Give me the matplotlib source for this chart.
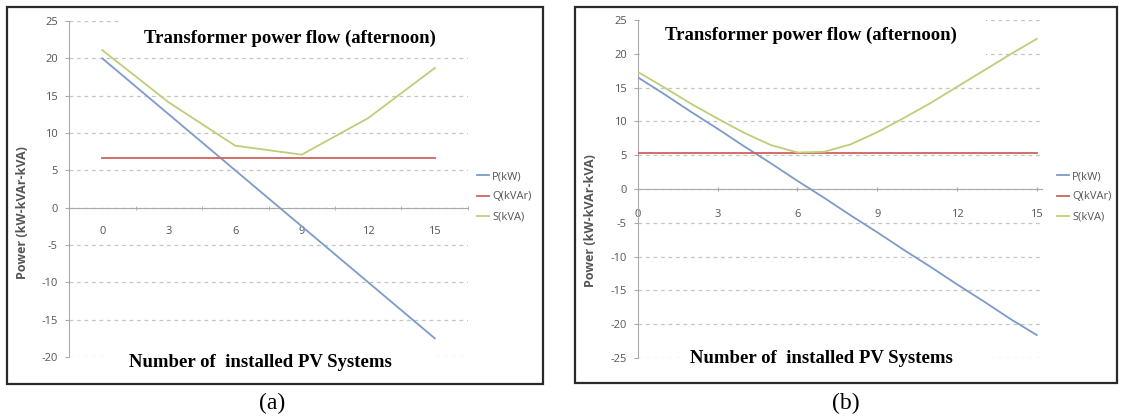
import numpy as np
import matplotlib.pyplot as plt
from matplotlib.patches import Rectangle

plt.rcParams['axes.unicode_minus'] = False

# datos panel (a): eje de categorias 0,3,...,15
n_a = [0, 3, 6, 9, 12, 15]
p_a = [20.0, 12.5, 5.0, -2.5, -10.0, -17.5]
q_a = [6.6, 6.6, 6.6, 6.6, 6.6, 6.6]
s_a = [21.1, 14.1, 8.3, 7.1, 12.0, 18.7]

# datos panel (b): un punto por cada sistema instalado
n_b = list(range(16))
p_b = [16.5, 14.0, 11.4, 8.9, 6.3, 3.8, 1.2, -1.3, -3.9, -6.4, -9.0, -11.5, -14.1, -16.6, -19.2, -21.6]
q_b = [5.3] * 16
s_b = [17.3, 15.0, 12.6, 10.4, 8.3, 6.5, 5.4, 5.5, 6.6, 8.4, 10.5, 12.7, 15.1, 17.5, 19.9, 22.2]

xticks = [0, 3, 6, 9, 12, 15]
etiquetas = ["P(kW)", "Q(kVAr)", "S(kVA)"]
titulo = "Transformer power flow (afternoon)"
xlab = "Number of  installed PV Systems"
ylab = "Power (kW-kVAr-kVA)"

c_p = '#7b9bc8'
c_q = '#cf625e'
c_s = '#bccf78'
gris = '#555555'

W, H = 1128, 417
fig = plt.figure(figsize=(W / 100, H / 100), dpi=100)


def fx(px):
    return px / W


def fy(py):
    return 1 - py / H


def caja(x0, y0, x1, y1, **kw):
    # rectangulo en pixeles de la figura
    r = Rectangle((fx(x0), fy(y1)), fx(x1) - fx(x0), fy(y0) - fy(y1),
                  transform=fig.transFigure, **kw)
    fig.add_artist(r)
    return r


def panel(ax, n, p, q, s, ylim, yticks, xlim):
    ax.plot(n, p, color=c_p, lw=1.3, label=etiquetas[0], zorder=3)
    ax.plot(n, q, color=c_q, lw=1.3, label=etiquetas[1], zorder=3)
    ax.plot(n, s, color=c_s, lw=1.3, label=etiquetas[2], zorder=3)
    ax.set_xlim(*xlim)
    ax.set_ylim(*ylim)
    ax.set_yticks(yticks)
    ax.set_xticks(xticks)
    ax.yaxis.grid(True, color='#c4c4c4', linestyle=(0, (3, 3)), lw=0.9)
    ax.set_axisbelow(True)
    for k in ['top', 'right']:
        ax.spines[k].set_visible(False)
    ax.spines['left'].set_color('#aaaaaa')
    ax.spines['bottom'].set_color('#aaaaaa')
    ax.spines['bottom'].set_position(('data', 0))
    ax.tick_params(axis='y', labelsize=8, labelcolor=gris, color='#aaaaaa', length=3, pad=5)
    ax.tick_params(axis='x', labelsize=8, labelcolor=gris, color='#aaaaaa', pad=13)
    for t in ax.get_xticklabels() + ax.get_yticklabels():
        t.set_fontfamily('Open Sans')
    ax.patch.set_alpha(0)


# panel (a)
ax1 = fig.add_axes([fx(69), fy(357), fx(468) - fx(69), fy(21) - fy(357)])
panel(ax1, n_a, p_a, q_a, s_a, (-20, 25), range(-20, 26, 5), (-1.5, 16.5))
ax1.set_xticks([1.5, 4.5, 7.5, 10.5, 13.5, 16.5], minor=True)
ax1.tick_params(axis='x', which='major', length=0)
ax1.tick_params(axis='x', which='minor', length=3, direction='inout', color='#aaaaaa')

# panel (b)
ax2 = fig.add_axes([fx(638), fy(358), fx(1042) - fx(638), fy(20) - fy(358)])
panel(ax2, n_b, p_b, q_b, s_b, (-25, 25), range(-25, 26, 5), (0, 15.2))
ax2.tick_params(axis='x', which='major', length=3, direction='inout')

# cajas blancas que tapan la reticula bajo los textos
caja(118, 12, 472, 52, facecolor='white', edgecolor='none', zorder=2)
caja(108, 346, 435, 384, facecolor='white', edgecolor='none', zorder=2)
caja(640, 12, 986, 60, facecolor='white', edgecolor='none', zorder=2)
caja(680, 344, 986, 383, facecolor='white', edgecolor='none', zorder=2)

# marcos de cada panel
caja(6.5, 7, 543, 384, facecolor='none', edgecolor='#2a2a2a', lw=1.6, zorder=5)
caja(575, 7, 1117, 383, facecolor='none', edgecolor='#2a2a2a', lw=1.6, zorder=5)

serif = 'Liberation Serif'
for cx, by in [(290, 43), (811, 40)]:
    fig.text(fx(cx), fy(by), titulo, ha='center', va='baseline', fontsize=13.5,
             fontweight='bold', family=serif, zorder=6)
for cx, by in [(260, 367), (821, 363)]:
    fig.text(fx(cx), fy(by), xlab, ha='center', va='baseline', fontsize=13.5,
             fontweight='bold', family=serif, zorder=6)
fig.text(fx(272), fy(403), "(a)", ha='center', va='center', fontsize=17, family=serif)
fig.text(fx(846), fy(403), "(b)", ha='center', va='center', fontsize=17, family=serif)

# etiquetas del eje y
fig.text(fx(23), fy(213), ylab, rotation=90, ha='center', va='center', fontsize=9,
         fontweight='bold', color=gris, family='Open Sans')
fig.text(fx(591), fy(221), ylab, rotation=90, ha='center', va='center', fontsize=9,
         fontweight='bold', color=gris, family='Open Sans')

# leyendas a la derecha
for ax, lx in [(ax1, 477), (ax2, 1057)]:
    leg = ax.legend(loc='center left', bbox_to_anchor=(fx(lx), fy(197)),
                    bbox_transform=fig.transFigure, frameon=False,
                    prop={'family': 'Open Sans', 'size': 8}, handlelength=1.1,
                    handletextpad=0.25, labelspacing=0.85, borderpad=0, borderaxespad=0)
    for t in leg.get_texts():
        t.set_color(gris)

fig.savefig('out.png', dpi=100)
